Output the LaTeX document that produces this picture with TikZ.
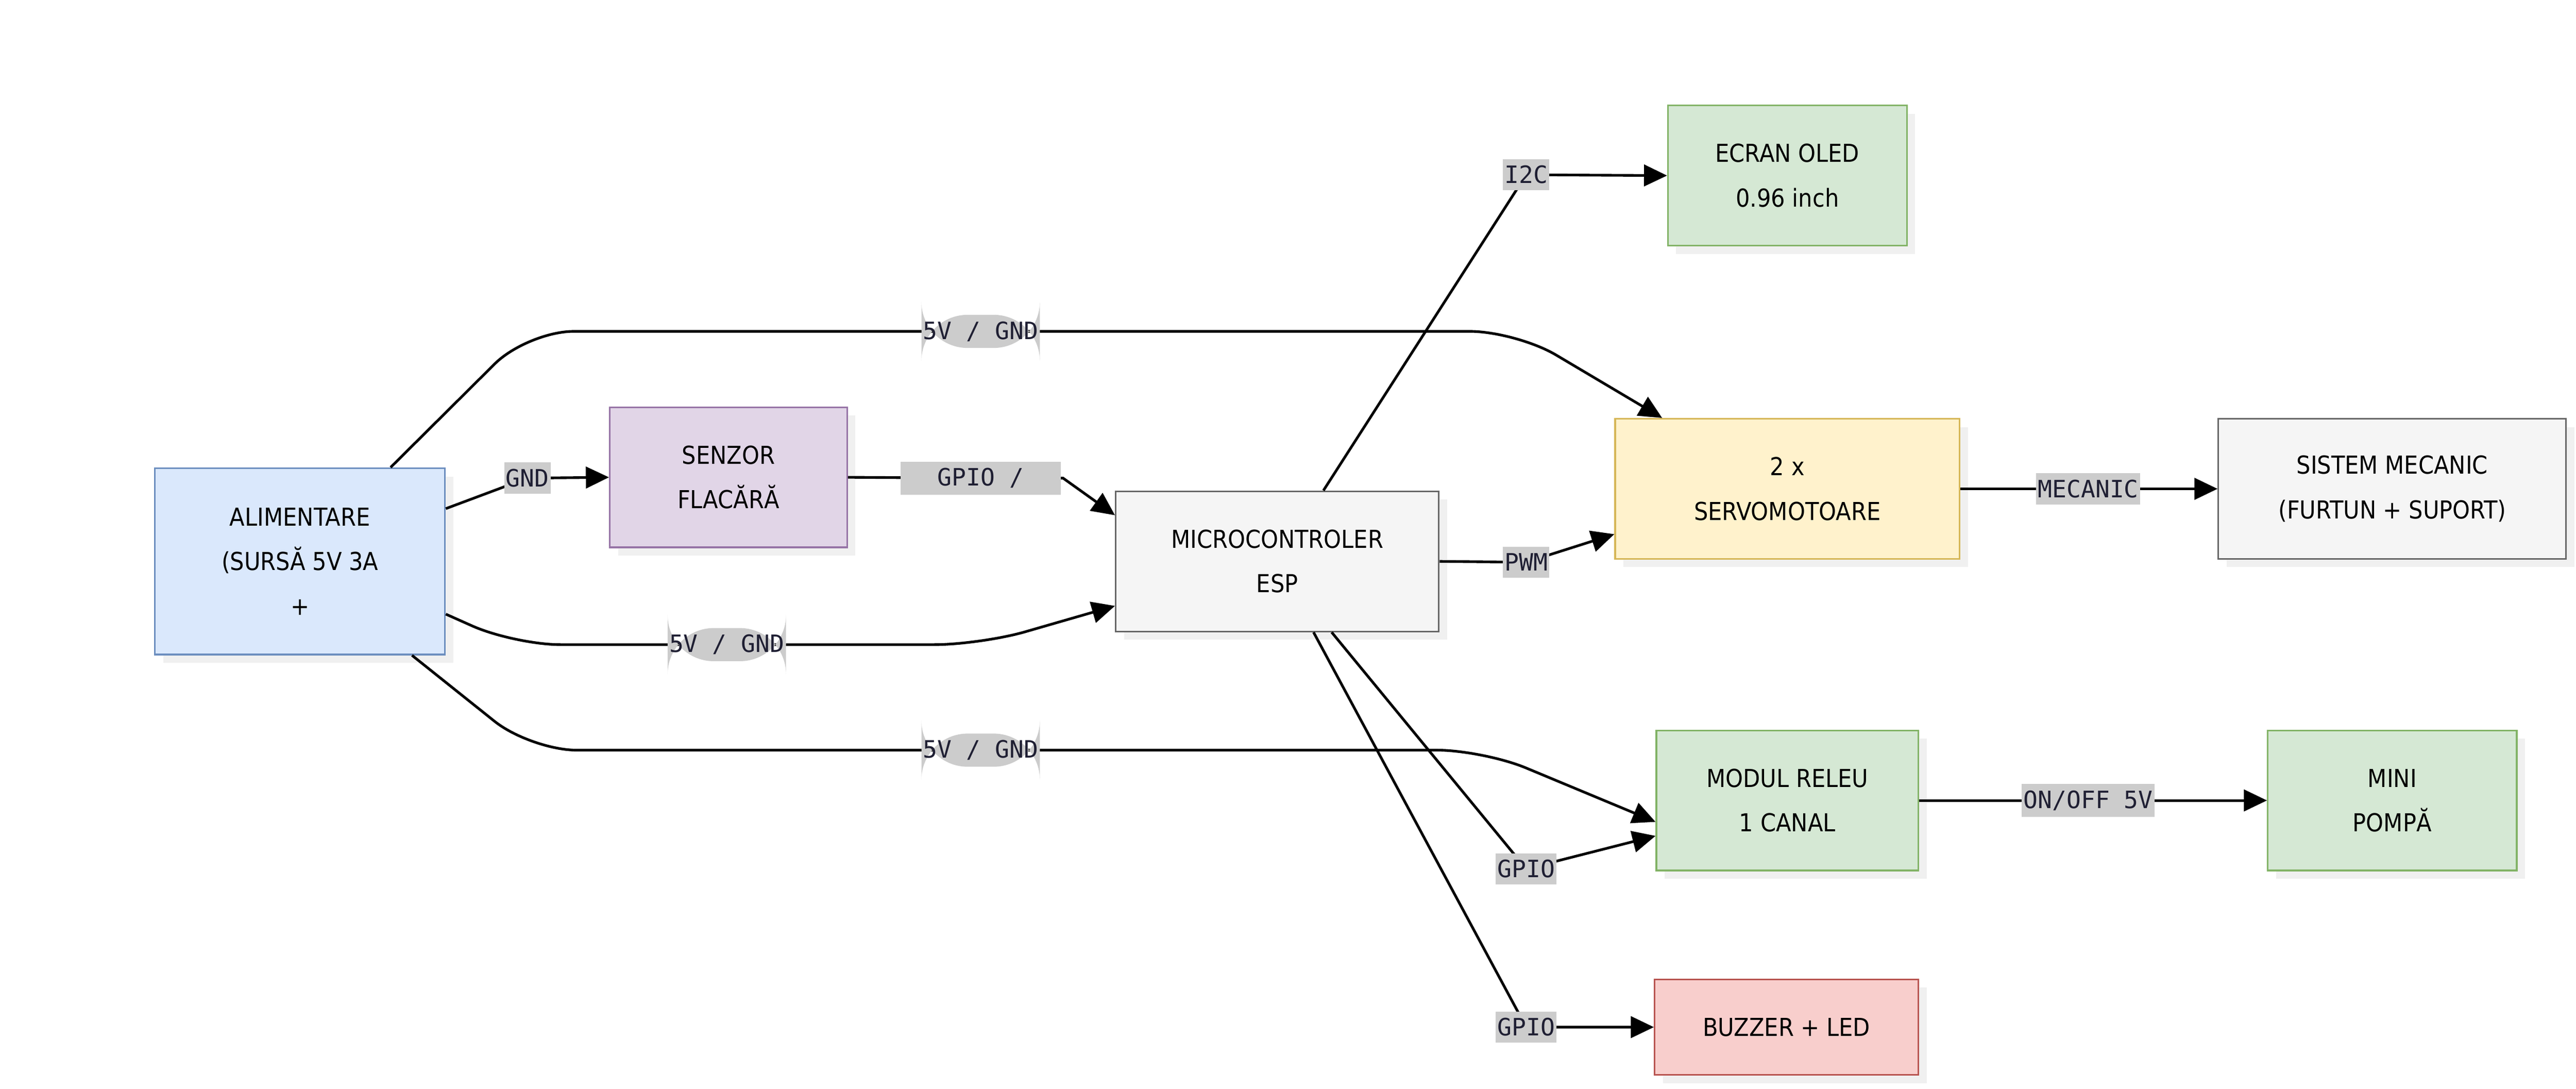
\documentclass[tikz,border=0pt]{standalone}
\usepackage{fontspec}
\setmainfont{DejaVu Sans Condensed}
\newfontfamily\lblfont{DejaVu Sans Mono}
\usetikzlibrary{arrows.meta}
\definecolor{bluef}{HTML}{DAE8FC}\definecolor{blued}{HTML}{6C8EBF}
\definecolor{purf}{HTML}{E1D5E7}\definecolor{purd}{HTML}{9673A6}
\definecolor{grf}{HTML}{F5F5F5}\definecolor{grd}{HTML}{666666}
\definecolor{gnf}{HTML}{D5E8D4}\definecolor{gnd}{HTML}{82B366}
\definecolor{yef}{HTML}{FFF2CC}\definecolor{yed}{HTML}{D6B656}
\definecolor{ref}{HTML}{F8CECC}\definecolor{red}{HTML}{B85450}
\definecolor{lblbg}{HTML}{CCCCCC}\definecolor{lbltx}{HTML}{1F1F33}
\begin{document}
\begin{tikzpicture}[x=1pt,y=-1pt,
 box/.style={draw, line width=1pt, align=center, font=\fontsize{15}{27}\selectfont,
   inner sep=0pt, execute at begin node={\setlength{\baselineskip}{27pt}},
   preaction={fill=black!6, draw=none, transform canvas={xshift=5pt,yshift=-5pt}}},
 lbl/.style={fill=lblbg, text=lbltx, font=\lblfont\fontsize{14.5}{16}\selectfont, inner xsep=1pt, inner ysep=4pt},
 con/.style={line width=1.6pt, draw=black},
 arr/.style={con, -{Triangle[length=14pt,width=13pt]}},
 rc/.style={rounded corners=28pt}]
\useasboundingbox (0,0) rectangle (1563,660.5);
\node[box, fill=bluef, draw=blued, minimum width=176pt, minimum height=113pt] (alim) at (182,340.5) {ALIMENTARE\\(SURSĂ 5V 3A\\+};
\node[box, fill=purf, draw=purd, minimum width=144pt, minimum height=85pt] (senz) at (442,289.5) {SENZOR\\FLACĂRĂ};
\node[box, fill=grf, draw=grd, minimum width=196pt, minimum height=85pt] (micro) at (775,340.5) {MICROCONTROLER\\ESP};
\node[box, fill=gnf, draw=gnd, minimum width=145pt, minimum height=85pt] (oled) at (1084.5,106.5) {ECRAN OLED\\0.96 inch};
\node[box, fill=yef, draw=yed, minimum width=209pt, minimum height=85pt] (servo) at (1084.5,296.5) {2 x\\SERVOMOTOARE};
\node[box, fill=grf, draw=grd, minimum width=211pt, minimum height=85pt] (mec) at (1451.5,296.5) {SISTEM MECANIC\\(FURTUN + SUPORT)};
\node[box, fill=gnf, draw=gnd, minimum width=159pt, minimum height=85pt] (releu) at (1084.5,485.5) {MODUL RELEU\\1 CANAL};
\node[box, fill=gnf, draw=gnd, minimum width=151pt, minimum height=85pt] (pompa) at (1451.5,485.5) {MINI\\POMPĂ};
\node[box, fill=ref, draw=red, minimum width=160pt, minimum height=58pt] (buzz) at (1084,623) {BUZZER + LED};

\draw[arr, rc] ([xshift=55pt]alim.north) -- (320,201) -- (595,201) node[lbl]{5V / GND} -- (920,201) -- ([xshift=-76pt]servo.north);
\draw[arr] ([yshift=32pt]alim.east) -- (320,290) node[lbl]{GND} -- (senz.west);
\draw[arr] (senz.east) -- (595,290) node[lbl, minimum width=97pt]{GPIO /} -- (645,290) -- ([yshift=28pt]micro.west);
\draw[arr, rc] ([yshift=-32pt]alim.east) -- (312,391) -- (441,391) node[lbl]{5V / GND} -- (595,391) -- ([yshift=-27pt]micro.west);
\draw[arr, rc] ([xshift=68pt]alim.south) -- (322,455) -- (595,455) node[lbl]{5V / GND} -- (900,455) -- ([yshift=-13pt]releu.west);
\draw[arr] ([xshift=28pt]micro.north) -- (926,106) node[lbl]{I2C} -- (oled.west);
\draw[arr] (micro.east) -- (926,341) node[lbl]{PWM} -- ([yshift=-27.5pt]servo.west);
\draw[arr] ([xshift=33pt]micro.south) -- (926,527) node[lbl]{GPIO} -- ([yshift=-21.5pt]releu.west);
\draw[arr] ([xshift=22pt]micro.south) -- (926,623) node[lbl]{GPIO} -- (buzz.west);
\draw[arr] (servo.east) -- (1267,296.5) node[lbl]{MECANIC} -- (mec.west);
\draw[arr] (releu.east) -- (1267,485.5) node[lbl]{ON/OFF 5V} -- (pompa.west);
\end{tikzpicture}
\end{document}
